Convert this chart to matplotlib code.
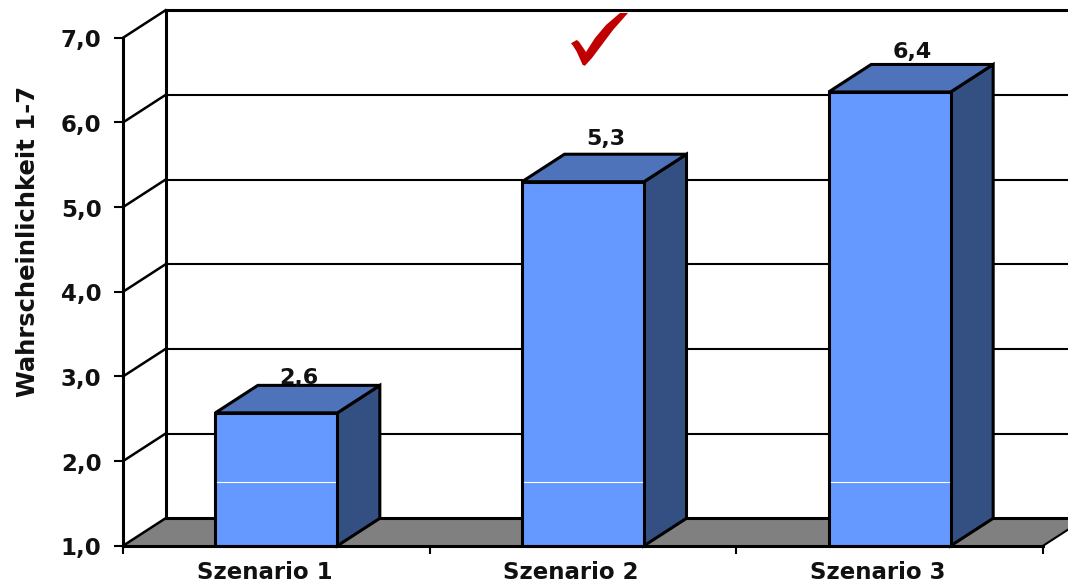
import matplotlib
matplotlib.use("Agg")
import matplotlib.pyplot as plt
from matplotlib.patches import Polygon
from matplotlib.transforms import Affine2D, ScaledTranslation

categories = ["Szenario 1", "Szenario 2", "Szenario 3"]
values = [2.57, 5.30, 6.36]
y_ticks = [1, 2, 3, 4, 5, 6, 7]
y_title = "Wahrscheinlichkeit 1-7"
band_level = 1.755

W, H = 1068, 584
plt.rcParams["font.family"] = ["DejaVu Sans"]
plt.rcParams["font.weight"] = "bold"
fig = plt.figure(figsize=(W / 100, H / 100), dpi=100, facecolor="white")
ax = fig.add_axes([0, 0, 1, 1])

# scales: front plane of the 3D box
px_x = 306.67          # px per category
px_y = 84.67           # px per unit
x0, y0 = 123, 545.8    # pixel of (-0.5, 1.0)
ax.set_xlim(-0.5 - x0 / px_x, -0.5 + (W - x0) / px_x)
ax.set_ylim(1 - (H - y0) / px_y, 1 + y0 / px_y)
ax.patch.set_visible(False)

dx = 42.5 / px_x       # depth offset
dy = 27.5 / px_y
bw = 122 / px_x
xl, xr = ax.get_xlim()
K = "#000000"
LW_THICK, LW_THIN = 2.2, 1.5

# floor
ax.add_patch(Polygon([(-0.5, 1), (-0.5 + dx, 1 + dy), (2.5 + dx, 1 + dy), (2.5, 1)],
                     closed=True, facecolor="#808080", edgecolor="none", zorder=1))
ax.plot([-0.5 + dx, xr], [1 + dy, 1 + dy], color=K, lw=LW_THICK, zorder=2)
ax.plot([2.5, 2.5 + dx], [1, 1 + dy], color=K, lw=LW_THIN, zorder=2)

# walls and grid
for t in y_ticks:
    ax.plot([-0.5, -0.5 + dx], [t, t + dy], color=K, lw=LW_THIN + 0.3, zorder=2)
    if t > 1:
        ax.plot([-0.5 + dx, xr], [t + dy, t + dy], color=K,
                lw=LW_THICK if t == y_ticks[-1] else LW_THIN, zorder=2)
ax.plot([-0.5 + dx, -0.5 + dx], [1 + dy, y_ticks[-1] + dy], color=K, lw=LW_THICK, zorder=2)

# bars
label_gap_px = [1, 9, 6]
for i, v in enumerate(values):
    l, r = i - bw / 2, i + bw / 2
    ec = dict(edgecolor=K, linewidth=LW_THICK, joinstyle="miter", zorder=3)
    ax.add_patch(Polygon([(r, 1), (r + dx, 1 + dy), (r + dx, v + dy), (r, v)],
                         closed=True, facecolor="#344F82", **ec))
    ax.add_patch(Polygon([(l, v), (l + dx, v + dy), (r + dx, v + dy), (r, v)],
                         closed=True, facecolor="#4E73BA", **ec))
    ax.add_patch(Polygon([(l, 1), (l, v), (r, v), (r, 1)],
                         closed=True, facecolor="#6699FF", **ec))
    ax.plot([l + 0.006, r - 0.006], [band_level, band_level], color="white", lw=0.8, zorder=4)
    ax.annotate(f"{v:.1f}".replace(".", ","), xy=(i + dx / 2, v + dy),
                xytext=(1, label_gap_px[i] * 0.72), textcoords="offset points",
                ha="center", va="baseline", fontsize=16, color="#111111", zorder=5)

# axes
for s in ("top", "right"):
    ax.spines[s].set_visible(False)
ax.spines["left"].set_position(("data", -0.5))
ax.spines["left"].set_bounds(y_ticks[0], y_ticks[-1])
ax.spines["bottom"].set_position(("data", 1))
ax.spines["bottom"].set_bounds(-0.5, 2.5)
for s in ("left", "bottom"):
    ax.spines[s].set_linewidth(LW_THICK)
    ax.spines[s].set_zorder(4)
ax.set_yticks(y_ticks)
ax.set_yticklabels([f"{t:.1f}".replace(".", ",") for t in y_ticks],
                   fontsize=16.5, color="#111111", va="center")
ax.tick_params(axis="y", length=6.5, width=LW_THIN, pad=9)
ax.set_xticks([-0.5, 0.5, 1.5, 2.5])
ax.set_xticklabels([])
ax.set_xticks([0, 1, 2], minor=True)
ax.set_xticklabels(categories, minor=True, fontsize=16.5, color="#111111")
ax.tick_params(axis="x", which="major", length=5.5, width=LW_THIN)
ax.tick_params(axis="x", which="minor", length=0, pad=11)

# small label nudges (pixels at 100 dpi)
down = ScaledTranslation(0, -3 * 0.72 / 72, fig.dpi_scale_trans)
left = ScaledTranslation(-12 * 0.72 / 72, 0, fig.dpi_scale_trans)
for lab in ax.get_yticklabels():
    lab.set_transform(lab.get_transform() + down)
for lab in ax.get_xticklabels(minor=True):
    lab.set_transform(lab.get_transform() + left)

# pixel-space annotations
px = Affine2D().scale(1, -1).translate(0, H)
fig.text(28.5 / W, 1 - 241 / H, y_title, rotation=90, ha="center", va="center",
         fontsize=17.5, color="#111111")
check = [(571, 43.3), (576.7, 40), (579, 41.7), (586, 52), (595, 38), (606, 25), (620, 13), (628, 13),
         (613, 30), (601, 46), (592, 58), (585, 65.7), (582.7, 65), (576.7, 51.7), (573, 45.7)]
ax.add_patch(Polygon(check, closed=True, transform=px, facecolor="#C00000",
                     edgecolor="none", zorder=6))

fig.savefig("out.png", dpi=100)
